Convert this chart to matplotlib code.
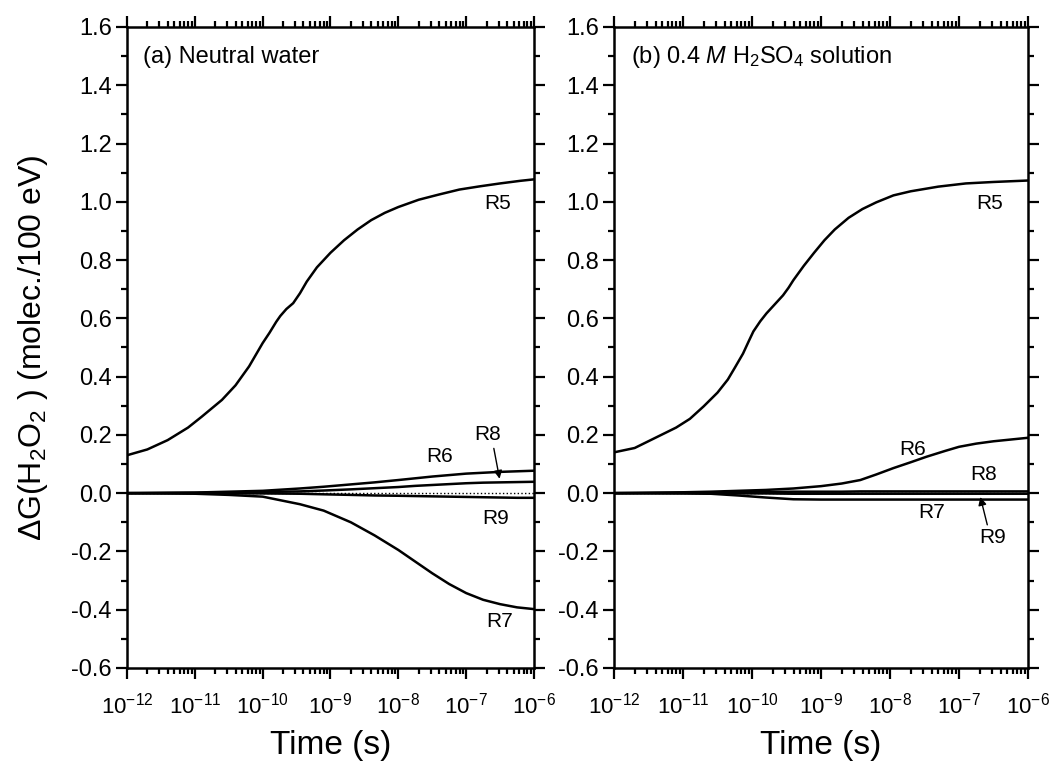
import matplotlib.pyplot as plt
import numpy as np
from matplotlib.ticker import LogLocator, MultipleLocator, NullFormatter

plt.rcParams['font.family'] = ['Liberation Sans', 'DejaVu Sans']
plt.rcParams['mathtext.fontset'] = 'custom'
plt.rcParams['mathtext.rm'] = 'Liberation Sans'
plt.rcParams['mathtext.it'] = 'Liberation Sans:italic'

# (a) neutral water, times given as log10(t / s)
a_logt_r5 = [-12, -11.7, -11.4, -11.1, -10.9, -10.6, -10.4, -10.2, -10.0, -9.9, -9.8, -9.74,
             -9.65, -9.55, -9.45, -9.35, -9.2, -9.0, -8.8, -8.6, -8.4, -8.2, -8.0, -7.7, -7.4,
             -7.1, -6.8, -6.5, -6.2, -6.0]
a_r5 = [0.13, 0.15, 0.182, 0.225, 0.262, 0.32, 0.37, 0.435, 0.515, 0.55, 0.588, 0.608,
        0.632, 0.652, 0.686, 0.726, 0.775, 0.825, 0.868, 0.905, 0.937, 0.962, 0.982, 1.007, 1.025,
        1.042, 1.053, 1.063, 1.072, 1.077]

a_logt = [-12, -11, -10.5, -10, -9.45, -9.1, -8.7, -8.35, -8.0, -7.75, -7.5, -7.25,
          -7.0, -6.75, -6.5, -6.25, -6.0]
a_r6 = [0, 0.002, 0.005, 0.008, 0.016, 0.022, 0.03, 0.037, 0.045, 0.051, 0.057, 0.062,
        0.067, 0.070, 0.073, 0.075, 0.077]
a_r8 = [0, 0.001, 0.002, 0.004, 0.006, 0.009, 0.013, 0.017, 0.021, 0.025, 0.028, 0.031,
        0.034, 0.036, 0.037, 0.038, 0.039]
a_r9 = [0, 0, -0.001, -0.001, -0.002, -0.004, -0.006, -0.008, -0.009, -0.010, -0.011, -0.012,
        -0.013, -0.014, -0.015, -0.016, -0.016]
a_r7 = [0, -0.002, -0.006, -0.012, -0.038, -0.06, -0.10, -0.145, -0.195, -0.235, -0.275, -0.312,
        -0.343, -0.366, -0.381, -0.392, -0.398]

# (b) 0.4 M H2SO4
b_logt_r5 = [-12, -11.7, -11.4, -11.1, -10.9, -10.7, -10.5, -10.35, -10.25, -10.13, -10.05,
             -9.98, -9.88, -9.79, -9.67, -9.55, -9.47, -9.4, -9.25, -9.1, -8.95, -8.8, -8.6,
             -8.4, -8.2, -7.95, -7.7, -7.3, -6.9, -6.5, -6.0]
b_r5 = [0.14, 0.155, 0.19, 0.225, 0.255, 0.298, 0.345, 0.39, 0.43, 0.479, 0.52,
        0.555, 0.59, 0.617, 0.648, 0.679, 0.705, 0.731, 0.78, 0.825, 0.868, 0.905, 0.945,
        0.975, 0.998, 1.022, 1.036, 1.052, 1.063, 1.068, 1.073]

b_logt = [-12, -11, -10.6, -10.2, -9.8, -9.4, -9.0, -8.7, -8.43, -8.2, -7.95, -7.7,
          -7.47, -7.2, -7.0, -6.75, -6.5, -6.25, -6.0]
b_r6 = [0, 0.003, 0.005, 0.008, 0.011, 0.016, 0.024, 0.033, 0.045, 0.064, 0.086, 0.106,
        0.125, 0.145, 0.159, 0.17, 0.178, 0.184, 0.19]
b_r8 = [0, 0.001, 0.002, 0.003, 0.004, 0.005, 0.005, 0.005, 0.006, 0.006, 0.006, 0.006,
        0.006, 0.006, 0.006, 0.006, 0.006, 0.006, 0.006]
b_r9 = [0, 0, -0.001, -0.001, -0.001, -0.002, -0.002, -0.002, -0.002, -0.002, -0.002, -0.002,
        -0.002, -0.002, -0.002, -0.002, -0.002, -0.002, -0.002]
b_r7 = [0, -0.001, -0.002, -0.008, -0.015, -0.021, -0.022, -0.022, -0.022, -0.022, -0.022, -0.022,
        -0.022, -0.022, -0.022, -0.022, -0.022, -0.022, -0.022]

fig = plt.figure(figsize=(10.51, 7.64), dpi=100)
ax1 = fig.add_axes([0.1208, 0.1257, 0.3873, 0.839])
ax2 = fig.add_axes([0.5842, 0.1257, 0.3939, 0.839])

lw = 1.8

panels = [(ax1, a_logt_r5, a_r5, a_logt, a_r6, a_r8, a_r9, a_r7),
          (ax2, b_logt_r5, b_r5, b_logt, b_r6, b_r8, b_r9, b_r7)]
for ax, lt5, r5, lt, r6, r8, r9, r7 in panels:
    t5 = 10.0 ** np.array(lt5)
    t = 10.0 ** np.array(lt)
    ax.plot(t5, r5, color='black', lw=lw)
    for s in (r6, r8, r9, r7):
        ax.plot(t, s, color='black', lw=lw)
    ax.axhline(0, color='black', lw=1.0, ls=':')
    ax.set_xscale('log')
    ax.set_xlim(1e-12, 1e-6)
    ax.set_ylim(-0.6, 1.6)
    ax.xaxis.set_major_locator(LogLocator(base=10, numticks=10))
    ax.xaxis.set_minor_locator(LogLocator(base=10, subs=np.arange(2, 10), numticks=10))
    ax.xaxis.set_minor_formatter(NullFormatter())
    ax.yaxis.set_major_locator(MultipleLocator(0.2))
    ax.yaxis.set_minor_locator(MultipleLocator(0.1))
    ax.yaxis.set_major_formatter(plt.FuncFormatter(lambda v, p: f'{v:.1f}'))
    ax.tick_params(which='both', direction='out', top=True, right=True, width=1.6)
    ax.tick_params(which='major', length=8)
    ax.tick_params(which='minor', length=4.5)
    ax.tick_params(axis='y', labelsize=17, pad=3)
    ax.tick_params(axis='x', labelsize=16, pad=10)
    for s in ax.spines.values():
        s.set_linewidth(1.8)
    ax.set_xlabel('Time (s)', fontsize=24, labelpad=8)

ax1.set_ylabel(r'$\Delta$G(H$_2$O$_2$ ) (molec./100 eV)', fontsize=23)
ax1.yaxis.set_label_coords(-0.19, 0.5)

ax1.text(0.04, 0.953, '(a) Neutral water', transform=ax1.transAxes, fontsize=17, va='center')
ax2.text(0.04, 0.953, r'(b) 0.4 $M$ H$_2$SO$_4$ solution', transform=ax2.transAxes,
         fontsize=17, va='center')

fs = 15
arrow = dict(arrowstyle='-|>', color='black', lw=1.0, mutation_scale=12)
ax1.text(10 ** -6.53, 0.995, 'R5', fontsize=fs, ha='center', va='center')
ax1.text(10 ** -7.39, 0.127, 'R6', fontsize=fs, ha='center', va='center')
ax1.text(10 ** -6.68, 0.2, 'R8', fontsize=fs, ha='center', va='center')
ax1.annotate('', xy=(10 ** -6.5, 0.04), xytext=(10 ** -6.6, 0.163), arrowprops=arrow)
ax1.text(10 ** -6.56, -0.086, 'R9', fontsize=fs, ha='center', va='center')
ax1.text(10 ** -6.5, -0.44, 'R7', fontsize=fs, ha='center', va='center')

ax2.text(10 ** -6.55, 0.995, 'R5', fontsize=fs, ha='center', va='center')
ax2.text(10 ** -7.67, 0.15, 'R6', fontsize=fs, ha='center', va='center')
ax2.text(10 ** -6.64, 0.065, 'R8', fontsize=fs, ha='center', va='center')
ax2.text(10 ** -7.39, -0.065, 'R7', fontsize=fs, ha='center', va='center')
ax2.text(10 ** -6.51, -0.151, 'R9', fontsize=fs, ha='center', va='center')
ax2.annotate('', xy=(10 ** -6.70, -0.004), xytext=(10 ** -6.58, -0.118), arrowprops=arrow)

fig.savefig('out.png', dpi=100)
